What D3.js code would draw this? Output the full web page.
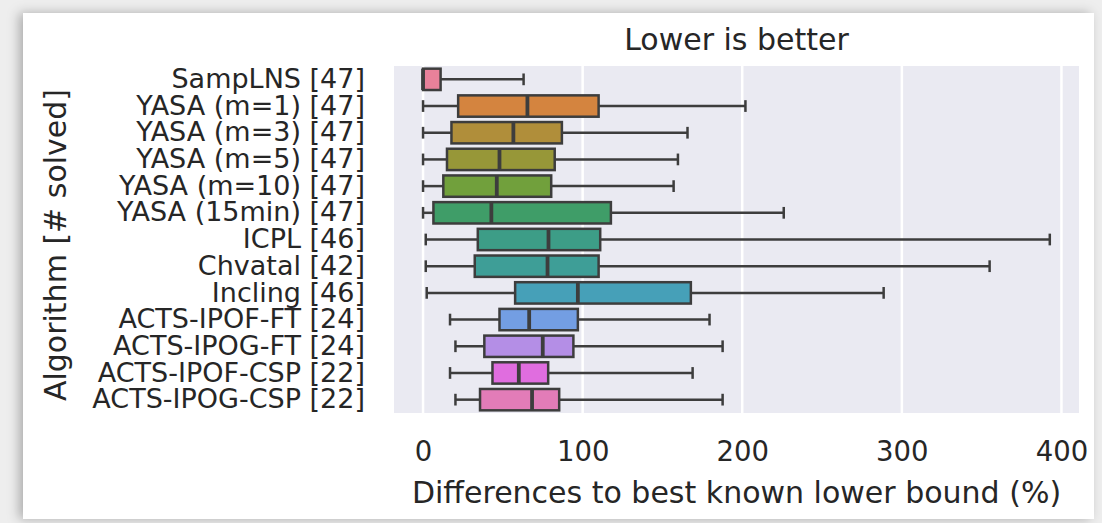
<!DOCTYPE html>
<html>
<head>
<meta charset="utf-8">
<script src="https://cdn.jsdelivr.net/npm/d3@7"></script>
<style>
  html, body { margin: 0; padding: 0; background: #eeeeee; }
  svg { display: block; font-family: "DejaVu Sans", sans-serif; }
</style>
</head>
<body>
<div class="box-chart"></div>
<script>
// values (% over best known lower bound)
const algorithms = ['SampLNS [47]', 'YASA (m=1) [47]', 'YASA (m=3) [47]', 'YASA (m=5) [47]',
  'YASA (m=10) [47]', 'YASA (15min) [47]', 'ICPL [46]', 'Chvatal [42]', 'Incling [46]',
  'ACTS-IPOF-FT [24]', 'ACTS-IPOG-FT [24]', 'ACTS-IPOF-CSP [22]', 'ACTS-IPOG-CSP [22]'];
const whiskerLow  = [0, 0, 0, 0, 0, 0, 1.7, 1.7, 2.3, 16.9, 20.3, 16.9, 20.3];
const q1          = [0, 22, 17.8, 15, 12.7, 6.5, 34.3, 32.4, 57.7, 47.9, 38.4, 43.5, 35.7];
const medians     = [0, 65.4, 56.6, 47.9, 46.2, 42.8, 78.6, 78, 97, 66.5, 75, 60, 68.3];
const q3          = [11, 110, 87, 82.5, 80.3, 117.7, 111, 110, 167.8, 97, 94.2, 78.4, 85.3];
const whiskerHigh = [63, 202, 165.7, 159.7, 157, 226, 392.7, 355, 288.6, 179.5, 187.7, 168.9, 187.7];
const colors = ['#e8819a', '#d4843f', '#b08e3a', '#979738', '#71a03c', '#3f9d68', '#3d9d87',
  '#3e9e97', '#46a0b8', '#739ee3', '#b48ee6', '#e06ddf', '#e27cb8'];
const xTicks = [0, 100, 200, 300, 400];

const data = algorithms.map(function(a, i){
  return {name: a, lo: whiskerLow[i], q1: q1[i], med: medians[i], q3: q3[i], hi: whiskerHigh[i], color: colors[i]};
});

const W = 1102, H = 523;
const plot = {left: 394, right: 1079, top: 66, bottom: 413};
const edge = '#3d3d3d';
const lw = 2.5;

const svg = d3.select('.box-chart')
  .append('svg')
    .attr('width', W)
    .attr('height', H);

// paper card with shadow
const defs = svg.append('defs');
defs.append('filter')
    .attr('id', 'shadow')
    .attr('x', '-10%').attr('y', '-10%').attr('width', '120%').attr('height', '120%')
  .append('feDropShadow')
    .attr('dx', -4).attr('dy', 0)
    .attr('stdDeviation', 6)
    .attr('flood-color', '#000')
    .attr('flood-opacity', 0.28);
svg.append('rect')
    .attr('x', 23).attr('y', 13)
    .attr('width', 1071).attr('height', 506)
    .attr('fill', '#ffffff')
    .attr('filter', 'url(#shadow)');

const xScale = d3.scaleLinear()
    .domain([-18.2, 411])
    .range([plot.left, plot.right]);
const yScale = d3.scaleBand()
    .domain(algorithms)
    .range([plot.top, plot.bottom]);
const bw = yScale.bandwidth();
const boxH = bw * 0.8;
const capH = boxH * 0.55;

svg.append('rect')
    .attr('x', plot.left).attr('y', plot.top)
    .attr('width', plot.right - plot.left)
    .attr('height', plot.bottom - plot.top)
    .attr('fill', '#eaeaf2');

// vertical grid
svg.append('g')
  .selectAll('line')
  .data(xTicks)
  .enter()
  .append('line')
    .attr('x1', function(d){ return xScale(d)})
    .attr('x2', function(d){ return xScale(d)})
    .attr('y1', plot.top).attr('y2', plot.bottom)
    .attr('stroke', '#ffffff')
    .attr('stroke-width', 2.5);

const rows = svg.append('g')
  .selectAll('g')
  .data(data)
  .enter()
  .append('g')
    .attr('transform', function(d){ return 'translate(0,' + (yScale(d.name) + bw / 2) + ')'});

// whiskers
rows.append('line')
    .attr('x1', function(d){ return xScale(d.lo)})
    .attr('x2', function(d){ return xScale(d.q1)})
    .attr('stroke', edge).attr('stroke-width', lw);
rows.append('line')
    .attr('x1', function(d){ return xScale(d.q3)})
    .attr('x2', function(d){ return xScale(d.hi)})
    .attr('stroke', edge).attr('stroke-width', lw);
// caps
rows.append('line')
    .attr('x1', function(d){ return xScale(d.lo)})
    .attr('x2', function(d){ return xScale(d.lo)})
    .attr('y1', -capH / 2).attr('y2', capH / 2)
    .attr('stroke', edge).attr('stroke-width', lw);
rows.append('line')
    .attr('x1', function(d){ return xScale(d.hi)})
    .attr('x2', function(d){ return xScale(d.hi)})
    .attr('y1', -capH / 2).attr('y2', capH / 2)
    .attr('stroke', edge).attr('stroke-width', lw);
// boxes
rows.append('rect')
    .attr('x', function(d){ return xScale(d.q1)})
    .attr('width', function(d){ return xScale(d.q3) - xScale(d.q1)})
    .attr('y', -boxH / 2)
    .attr('height', boxH)
    .attr('fill', function(d){ return d.color})
    .attr('stroke', edge).attr('stroke-width', lw);
// medians
rows.append('line')
    .attr('x1', function(d){ return xScale(d.med)})
    .attr('x2', function(d){ return xScale(d.med)})
    .attr('y1', -boxH / 2).attr('y2', boxH / 2)
    .attr('stroke', edge).attr('stroke-width', 3.8);

// axes
const xAxis = svg.append('g')
    .attr('transform', 'translate(0,' + plot.bottom + ')')
    .call(d3.axisBottom(xScale).tickValues(xTicks).tickSize(0).tickPadding(28));
xAxis.select('.domain').remove();
xAxis.selectAll('text')
    .attr('font-family', '"DejaVu Sans", sans-serif')
    .attr('font-size', '27.5px')
    .attr('fill', '#262626');

const yAxis = svg.append('g')
    .attr('transform', 'translate(' + plot.left + ',0)')
    .call(d3.axisLeft(yScale).tickSize(0).tickPadding(29));
yAxis.select('.domain').remove();
yAxis.selectAll('text')
    .attr('font-family', '"DejaVu Sans", sans-serif')
    .attr('font-size', '27px')
    .attr('fill', '#262626');

svg.append('text')
    .attr('x', (plot.left + plot.right) / 2)
    .attr('y', 503)
    .attr('text-anchor', 'middle')
    .attr('font-size', '30px')
    .attr('fill', '#262626')
    .text('Differences to best known lower bound (%)');

svg.append('text')
    .attr('transform', 'translate(66,245) rotate(-90)')
    .attr('text-anchor', 'middle')
    .attr('font-size', '30px')
    .attr('fill', '#262626')
    .text('Algorithm [# solved]');

svg.append('text')
    .attr('x', (plot.left + plot.right) / 2)
    .attr('y', 50)
    .attr('text-anchor', 'middle')
    .attr('font-size', '30px')
    .attr('fill', '#262626')
    .text('Lower is better');
</script>
</body>
</html>
